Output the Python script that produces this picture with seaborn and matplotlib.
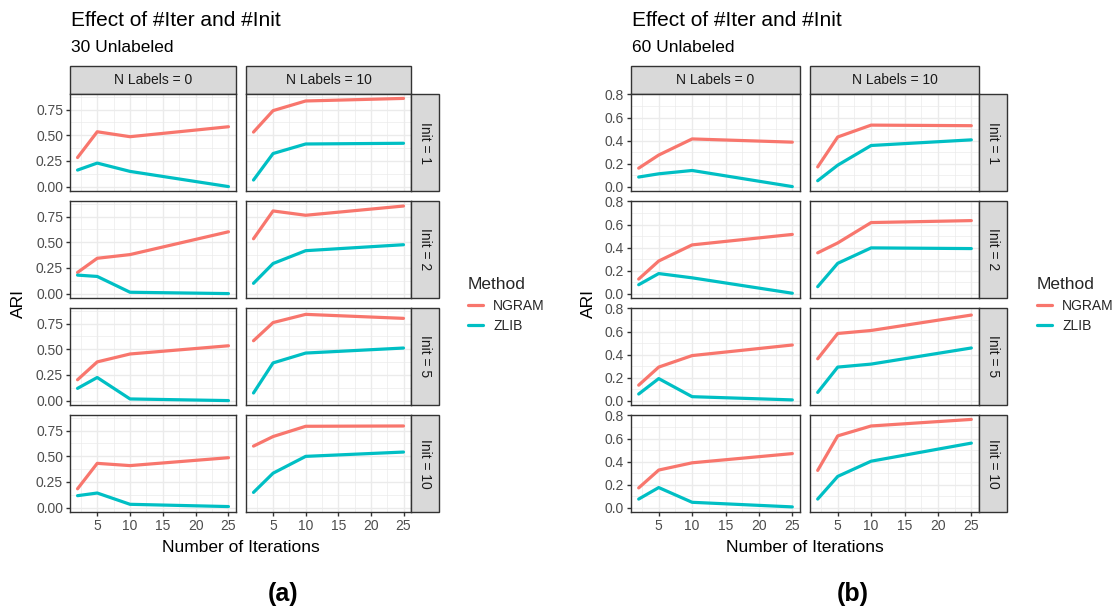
import numpy as np
import pandas as pd
import matplotlib
matplotlib.use("Agg")
import matplotlib.pyplot as plt
from matplotlib.patches import Rectangle
import seaborn as sns

# ---------------- data ----------------
iterations = [2, 5, 10, 25]
methods = ["NGRAM", "ZLIB"]
inits = [1, 2, 5, 10]
n_labels = [0, 10]

# panel (a): 30 unlabeled -- rows are Init = 1, 2, 5, 10
a_ngram_nl0 = [[0.283, 0.534, 0.486, 0.583],
               [0.206, 0.344, 0.380, 0.602],
               [0.203, 0.377, 0.454, 0.534],
               [0.183, 0.431, 0.409, 0.486]]
a_zlib_nl0 = [[0.161, 0.229, 0.148, 0.000],
              [0.180, 0.167, 0.013, 0.000],
              [0.119, 0.225, 0.016, 0.000],
              [0.116, 0.142, 0.032, 0.010]]
a_ngram_nl10 = [[0.531, 0.740, 0.834, 0.859],
                [0.534, 0.805, 0.763, 0.853],
                [0.583, 0.760, 0.840, 0.801],
                [0.599, 0.692, 0.792, 0.795]]
a_zlib_nl10 = [[0.064, 0.322, 0.415, 0.422],
               [0.100, 0.293, 0.418, 0.476],
               [0.074, 0.367, 0.463, 0.512],
               [0.148, 0.335, 0.499, 0.541]]

# panel (b): 60 unlabeled
b_ngram_nl0 = [[0.160, 0.274, 0.414, 0.386],
               [0.126, 0.283, 0.423, 0.514],
               [0.134, 0.291, 0.391, 0.483],
               [0.171, 0.326, 0.389, 0.469]]
b_zlib_nl0 = [[0.083, 0.111, 0.140, 0.000],
              [0.077, 0.174, 0.137, 0.003],
              [0.057, 0.191, 0.034, 0.006],
              [0.074, 0.174, 0.046, 0.006]]
b_ngram_nl10 = [[0.171, 0.431, 0.534, 0.529],
                [0.354, 0.440, 0.617, 0.634],
                [0.363, 0.583, 0.609, 0.743],
                [0.323, 0.623, 0.709, 0.766]]
b_zlib_nl10 = [[0.051, 0.186, 0.357, 0.406],
               [0.060, 0.263, 0.397, 0.391],
               [0.071, 0.291, 0.317, 0.457],
               [0.074, 0.271, 0.403, 0.560]]

titles = ["Effect of #Iter and #Init", "Effect of #Iter and #Init"]
subtitles = ["30 Unlabeled", "60 Unlabeled"]
tags = ["(a)", "(b)"]
x_ticks = [5, 10, 15, 20, 25]
y_ticks_a = [0.0, 0.25, 0.5, 0.75]
y_ticks_b = [0.0, 0.2, 0.4, 0.6, 0.8]
y_ticklabels_a = ["0.00", "0.25", "0.50", "0.75"]
y_ticklabels_b = ["0.0", "0.2", "0.4", "0.6", "0.8"]


def build(ng0, zl0, ng10, zl10):
    rows = []
    for nl, ng, zl in [(0, ng0, zl0), (10, ng10, zl10)]:
        for i, init in enumerate(inits):
            for m, arr in [("NGRAM", ng), ("ZLIB", zl)]:
                for it, v in zip(iterations, arr[i]):
                    rows.append(dict(nlabels=nl, init=init, method=m, iter=it, ari=v))
    return pd.DataFrame(rows)


df_a = build(a_ngram_nl0, a_zlib_nl0, a_ngram_nl10, a_zlib_nl10)
df_b = build(b_ngram_nl0, b_zlib_nl0, b_ngram_nl10, b_zlib_nl10)

# ---------------- style ----------------
sns.set_theme(style="white")
plt.rcParams["font.family"] = ["Liberation Sans", "DejaVu Sans"]

palette = {"NGRAM": "#F8766D", "ZLIB": "#00BFC4"}
W, H = 1119, 607
fig = plt.figure(figsize=(W / 100, H / 100), dpi=100)
fig.patch.set_facecolor("white")


def box(x0, y0, x1, y1):
    return [x0 / W, 1 - y1 / H, (x1 - x0) / W, (y1 - y0) / H]


row_tops = [94, 201, 308, 415]
row_h = 97
layouts = [
    dict(df=df_a, cols=[(70, 236), (246, 411)], strip_r=(411, 439),
         yt=y_ticks_a, ytl=y_ticklabels_a, title_x=71, ylab_x=18, xlab_x=241,
         leg_x=455, tag_x=283),
    dict(df=df_b, cols=[(631, 800), (810, 979)], strip_r=(979, 1007),
         yt=y_ticks_b, ytl=y_ticklabels_b, title_x=632, ylab_x=588, xlab_x=805,
         leg_x=1024, tag_x=853),
]

handles = None
labels = None
for li, L in enumerate(layouts):
    df = L["df"]
    lo, hi = df["ari"].min(), df["ari"].max()
    pad = 0.05 * (hi - lo)
    ylim = (lo - pad, hi + pad)
    xlo, xhi = min(iterations), max(iterations)
    xpad = 0.05 * (xhi - xlo)
    xlim = (xlo - xpad, xhi + xpad)
    yt = L["yt"]
    ystep = yt[1] - yt[0]
    yminor = [v + ystep / 2 for v in [yt[0] - ystep] + yt if ylim[0] < v + ystep / 2 < ylim[1]]
    xminor = [v + 2.5 for v in [0] + x_ticks if xlim[0] < v + 2.5 < xlim[1]]

    for ci, (cx0, cx1) in enumerate(L["cols"]):
        # top strip
        sax = fig.add_axes(box(cx0, 66, cx1, 94))
        sax.set_xlim(0, 1); sax.set_ylim(0, 1)
        sax.add_patch(Rectangle((0, 0), 1, 1, facecolor="#D9D9D9", edgecolor="#333333",
                                linewidth=1.0, transform=sax.transAxes, clip_on=False))
        sax.text(0.5, 0.5, f"N Labels = {n_labels[ci]}", ha="center", va="center",
                 fontsize=10, color="#1A1A1A")
        sax.axis("off")
        for ri, init in enumerate(inits):
            y0 = row_tops[ri]
            ax = fig.add_axes(box(cx0, y0, cx1, y0 + row_h))
            sub = df[(df["nlabels"] == n_labels[ci]) & (df["init"] == init)]
            sns.lineplot(data=sub, x="iter", y="ari", hue="method", hue_order=methods,
                         palette=palette, linewidth=2.3, ax=ax, legend=True,
                         zorder=3)
            leg = ax.get_legend()
            if handles is None:
                handles, labels = ax.get_legend_handles_labels()
            if leg is not None:
                leg.remove()
            ax.set_xlim(*xlim); ax.set_ylim(*ylim)
            ax.set_xticks(x_ticks); ax.set_xticks(xminor, minor=True)
            ax.set_yticks(yt); ax.set_yticks(yminor, minor=True)
            ax.grid(True, which="major", color="#EBEBEB", linewidth=1.0, zorder=0)
            ax.grid(True, which="minor", color="#EBEBEB", linewidth=0.5, zorder=0)
            ax.set_axisbelow(True)
            ax.set_facecolor("white")
            for s in ax.spines.values():
                s.set_color("#333333"); s.set_linewidth(1.0); s.set_visible(True)
            ax.set_xlabel(""); ax.set_ylabel("")
            ax.tick_params(which="minor", length=0)
            ax.tick_params(which="major", length=3, width=1.0, color="#333333",
                           labelsize=10, labelcolor="#4D4D4D", pad=2,
                           bottom=(ri == 3), left=(ci == 0))
            if ci == 0:
                ax.set_yticklabels(L["ytl"])
            else:
                ax.set_yticklabels([])
            if ri != 3:
                ax.set_xticklabels([])
            # right strip
            if ci == 1:
                rax = fig.add_axes(box(L["strip_r"][0], y0, L["strip_r"][1], y0 + row_h))
                rax.add_patch(Rectangle((0, 0), 1, 1, facecolor="#D9D9D9", edgecolor="#333333",
                                        linewidth=1.0, transform=rax.transAxes, clip_on=False))
                rax.text(0.5, 0.5, f"Init = {init}", ha="center", va="center",
                         rotation=-90, fontsize=10, color="#1A1A1A")
                rax.axis("off")

    # titles
    fig.text(L["title_x"] / W, 1 - 20 / H, titles[li], fontsize=15,
             color="black", ha="left", va="center")
    fig.text(L["title_x"] / W, 1 - 47 / H, subtitles[li], fontsize=12.5,
             color="black", ha="left", va="center")
    fig.text(L["ylab_x"] / W, 1 - 303 / H, "ARI", fontsize=12.5, rotation=90,
             ha="center", va="center", color="black")
    fig.text(L["xlab_x"] / W, 1 - 547 / H, "Number of Iterations", fontsize=12.5,
             ha="center", va="center", color="black")
    fig.text(L["tag_x"] / W, 1 - 594 / H, tags[li], fontsize=18,
             fontweight="bold", ha="center", va="center", color="black")
    fig.legend(handles, labels, title="Method", loc="center left",
               bbox_to_anchor=(L["leg_x"] / W, 1 - 305 / H), frameon=False,
               fontsize=10, title_fontsize=12.5, handlelength=1.1, handletextpad=0.75,
               labelspacing=0.45, alignment="left")

fig.savefig("out.png", dpi=100, facecolor="white")
